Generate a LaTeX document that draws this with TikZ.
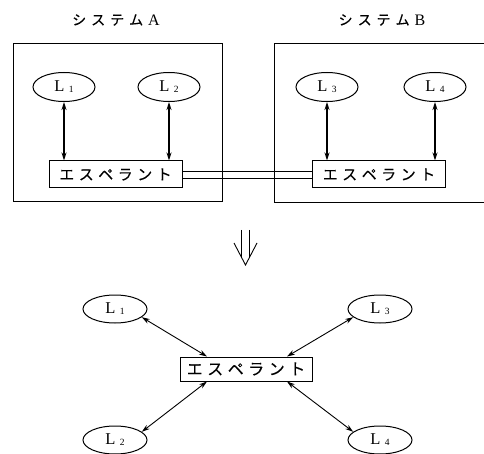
\documentclass[tikz,border=0pt]{standalone}
\usepackage{fontspec}
\newfontfamily\jp[FakeBold=0.2]{Noto Sans CJK JP}
\newfontfamily\lat{Liberation Serif}
\usetikzlibrary{arrows.meta,shapes.geometric}
\newcommand{\jsp}{\hspace{4.5pt}}
\newcommand{\tsp}{\hspace{5pt}}
\newcommand{\Lsub}[1]{L\hspace{4.5pt}\raisebox{-1pt}{\fontsize{9.5}{9.5}\selectfont #1}}
\begin{document}
\begin{tikzpicture}[x=1pt,y=-1pt,
  lang/.style={draw,ellipse,line width=1pt,minimum width=62pt,minimum height=29pt,inner sep=0pt,font=\lat\fontsize{16.5}{16.5}\selectfont},
  langb/.style={lang,minimum width=64pt,minimum height=28pt},
  esbox/.style={draw,rectangle,line width=1pt,minimum width=133pt,minimum height=27pt,inner sep=0pt,font=\jp\fontsize{15}{15}\selectfont},
  sysframe/.style={draw,line width=0.9pt},
  title/.style={font=\jp\fontsize{14}{14}\selectfont,inner sep=0pt},
  link/.style={line width=0.9pt},
  varrow/.style={{Stealth[length=8pt,width=5pt]}-{Stealth[length=8pt,width=5pt]},line width=1.3pt},
  darrow/.style={{Stealth[length=8pt,width=5pt]}-{Stealth[length=8pt,width=5pt]},line width=0.9pt}]
\useasboundingbox (0,0) rectangle (484,454);
% titles
\node[title] (tA) at (116,20) {シ\tsp ス\tsp テ\tsp ム\tsp{\lat\fontsize{16}{16}\selectfont A}};
\node[title] (tB) at (382,20) {シ\tsp ス\tsp テ\tsp ム\tsp{\lat\fontsize{16}{16}\selectfont B}};
% system frames
\draw[sysframe] (13,43) rectangle (222,201);
\draw[sysframe] (486,43) -- (274,43) -- (274,202) -- (486,202);
% top nodes
\node[lang] (L1) at (64,87) {\Lsub{1}};
\node[lang] (L2) at (169,87) {\Lsub{2}};
\node[lang] (L3) at (327,87) {\Lsub{3}};
\node[lang] (L4) at (435,87) {\Lsub{4}};
\node[esbox] (EA) at (115.5,174.5) {エ\jsp ス\jsp ペ\jsp ラ\jsp ン\jsp ト};
\node[esbox] (EB) at (379,174.5) {エ\jsp ス\jsp ペ\jsp ラ\jsp ン\jsp ト};
\draw[varrow] (L1.south) -- (L1.south |- EA.north);
\draw[varrow] (L2.south) -- (L2.south |- EA.north);
\draw[varrow] (L3.south) -- (L3.south |- EB.north);
\draw[varrow] (L4.south) -- (L4.south |- EB.north);
\draw[link] ([yshift=-3.5pt]EA.east) -- ([yshift=-3.5pt]EB.west);
\draw[link] ([yshift=3.5pt]EA.east) -- ([yshift=3.5pt]EB.west);
% big down arrow
\draw[line width=0.9pt,line join=miter] (234,243) -- (245.5,265) -- (257,243);
\draw[line width=0.9pt] (241.5,230) -- (241.5,257.5);
\draw[line width=0.9pt] (249.5,230) -- (249.5,257.5);
% bottom
\node[langb] (M1) at (115,309) {\Lsub{1}};
\node[langb] (M3) at (380,309) {\Lsub{3}};
\node[langb] (M2) at (115,440) {\Lsub{2}};
\node[langb] (M4) at (380,440) {\Lsub{4}};
\node[esbox,minimum width=132pt,minimum height=24pt,font=\jp\fontsize{16}{16}\selectfont] (EC) at (246,369) {エ\jsp ス\jsp ペ\jsp ラ\jsp ン\jsp ト};
\draw[darrow] (M1.-17) -- ([xshift=-39pt]EC.north);
\draw[darrow] (M3.-163) -- ([xshift=41pt]EC.north);
\draw[darrow] (M2.17) -- ([xshift=-39pt]EC.south);
\draw[darrow] (M4.163) -- ([xshift=41pt]EC.south);
\end{tikzpicture}
\end{document}
